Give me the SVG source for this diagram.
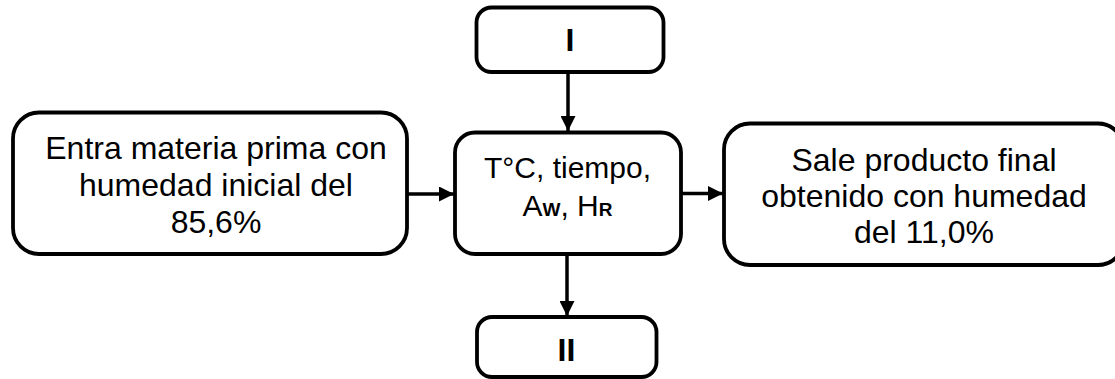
<svg xmlns="http://www.w3.org/2000/svg" width="1115" height="379" viewBox="0 0 1115 379">
<style>
.box{fill:#fff;stroke:#000;stroke-width:3.8}
.t{font-family:"Liberation Sans",Arial,sans-serif;font-size:32px;fill:#000;text-anchor:middle}
.c{font-size:30px}
.b{font-weight:bold}
.edge{stroke:#000;stroke-width:3.5;fill:none}
</style>
<defs>
<marker id="ah" markerWidth="15" markerHeight="15" viewBox="0 0 15 15" refX="15" refY="7.5" orient="auto" markerUnits="userSpaceOnUse">
<path d="M0,0 L15,7.5 L0,15 Z" fill="#000"/>
</marker>
</defs>
<rect width="1115" height="379" fill="#fff"/>
<g id="connectors">
<line class="edge" x1="568" y1="72" x2="568" y2="131" marker-end="url(#ah)"/>
<line class="edge" x1="407" y1="194" x2="454" y2="194" marker-end="url(#ah)"/>
<line class="edge" x1="681" y1="193.5" x2="723" y2="193.5" marker-end="url(#ah)"/>
<line class="edge" x1="567" y1="254" x2="567" y2="316" marker-end="url(#ah)"/>
</g>
<g id="nodeI">
<rect class="box" x="476.5" y="7.5" width="187" height="64.5" rx="15"/>
<text class="t b" x="570" y="51">I</text>
</g>
<g id="nodeEntrada">
<rect class="box" x="13" y="112.5" width="394" height="141.5" rx="26"/>
<text class="t" x="216" y="158.5">Entra materia prima con</text>
<text class="t" x="216" y="195.5">humedad inicial del</text>
<text class="t" x="216" y="232.5">85,6%</text>
</g>
<g id="nodeProceso">
<rect class="box" x="455" y="132.5" width="226" height="121.5" rx="20"/>
<text class="t c" x="567.5" y="178">T°C, tiempo,</text>
<text class="t c" x="567.5" y="215.5">A<tspan class="b" font-size="19">W</tspan>, H<tspan class="b" font-size="19">R</tspan></text>
</g>
<g id="nodeSalida">
<rect class="box" x="724" y="123.5" width="400" height="141.5" rx="26"/>
<text class="t" x="924" y="171">Sale producto final</text>
<text class="t" x="924" y="206.5">obtenido con humedad</text>
<text class="t" x="924" y="242.5">del 11,0%</text>
</g>
<g id="nodeII">
<rect class="box" x="477" y="317" width="179.5" height="60" rx="15"/>
<text class="t b" x="566.5" y="361">II</text>
</g>
</svg>
